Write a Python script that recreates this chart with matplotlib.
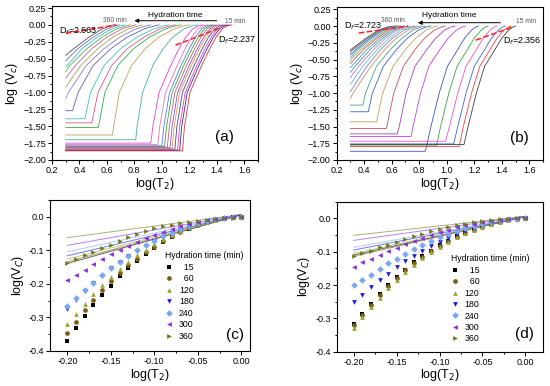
import matplotlib
matplotlib.use('Agg')
import matplotlib.pyplot as plt
from matplotlib.ticker import MultipleLocator

plt.rcParams['font.family'] = ['Liberation Sans', 'DejaVu Sans']

# ---- (a), (b): one cumulative curve per hydration time (360 min first) ----
# x where each curve crosses these log(Vc) levels (only levels above its start)
levels = [-1.5, -1.0, -0.6, -0.35, -0.18, -0.06, -0.015, 0.0]
x_start = 0.3

a_start = [-0.45, -0.53, -0.62, -0.69, -0.79, -0.92, -1.09, -1.27, -1.39, -1.45, -1.52, -1.63,
           -1.70, -1.75, -1.77, -1.79, -1.80, -1.81, -1.82, -1.83, -1.84, -1.85, -1.86, -1.865]
a_knee = [None, None, None, None, None, None, None, 0.35, 0.44, 0.49, 0.535, 0.64,
          0.81, 0.92, 0.97, 1.00, 1.02, 1.04, 1.06, 1.075, 1.095, 1.115, 1.13, 1.15]
a_cross = [
    [0.36, 0.47, 0.565, 0.62, 0.65],
    [0.39, 0.50, 0.60, 0.66, 0.69],
    [0.31, 0.42, 0.53, 0.635, 0.70, 0.73],
    [0.33, 0.455, 0.565, 0.67, 0.74, 0.77],
    [0.37, 0.49, 0.60, 0.71, 0.78, 0.81],
    [0.41, 0.535, 0.645, 0.755, 0.83, 0.86],
    [0.32, 0.45, 0.58, 0.695, 0.81, 0.885, 0.92],
    [0.39, 0.50, 0.63, 0.75, 0.87, 0.945, 0.98],
    [0.48, 0.58, 0.70, 0.82, 0.94, 1.01, 1.05],
    [0.535, 0.635, 0.75, 0.87, 0.985, 1.06, 1.10],
    [0.54, 0.585, 0.68, 0.795, 0.91, 1.025, 1.10, 1.14],
    [0.65, 0.69, 0.78, 0.88, 0.98, 1.09, 1.16, 1.20],
    [0.82, 0.86, 0.935, 1.01, 1.08, 1.16, 1.22, 1.26],
    [0.935, 0.98, 1.065, 1.125, 1.175, 1.225, 1.265, 1.30],
    [0.985, 1.027, 1.112, 1.17, 1.218, 1.265, 1.30, 1.335],
    [1.015, 1.056, 1.14, 1.20, 1.245, 1.29, 1.325, 1.36],
    [1.035, 1.075, 1.16, 1.22, 1.265, 1.31, 1.345, 1.38],
    [1.055, 1.095, 1.18, 1.24, 1.285, 1.33, 1.365, 1.40],
    [1.075, 1.115, 1.20, 1.26, 1.305, 1.35, 1.385, 1.42],
    [1.09, 1.13, 1.215, 1.275, 1.32, 1.365, 1.40, 1.435],
    [1.11, 1.15, 1.235, 1.295, 1.34, 1.385, 1.42, 1.455],
    [1.13, 1.17, 1.255, 1.315, 1.36, 1.405, 1.44, 1.475],
    [1.145, 1.185, 1.27, 1.33, 1.375, 1.42, 1.455, 1.49],
    [1.165, 1.205, 1.29, 1.35, 1.395, 1.44, 1.475, 1.51],
]
a_colors = ['#505050', '#7070b0', '#40b8c8', '#50b050', '#d06090', '#b0a050', '#8080d0', '#6060b0',
            '#40c0c0', '#e05090', '#30b040', '#c0a060', '#40b0a0', '#e040e0', '#f070b0', '#5080e0',
            '#40a040', '#c06080', '#9050d0', '#e0a030', '#4040c0', '#e040c0', '#303090', '#e03040']

b_start = [-0.36, -0.39, -0.43, -0.47, -0.51, -0.56, -0.62, -0.69, -0.77, -0.87, -0.98, -1.08,
           -1.18, -1.28, -1.43, -1.53, -1.61, -1.65, -1.87, -1.79, -1.72, -1.76, -1.80, -1.77]
b_knee = [None, None, None, None, None, None, None, None, None, None, None, None,
          0.39, 0.43, 0.49, 0.56, 0.64, 0.74, 0.845, 0.925, 0.99, 1.05, 1.09, 1.125]
b_cross = [
    [0.305, 0.415, 0.505, 0.57, 0.625],
    [0.32, 0.43, 0.52, 0.585, 0.635],
    [0.34, 0.445, 0.535, 0.60, 0.645],
    [0.355, 0.46, 0.55, 0.61, 0.655],
    [0.375, 0.48, 0.565, 0.625, 0.665],
    [0.395, 0.495, 0.58, 0.64, 0.68],
    [0.31, 0.42, 0.515, 0.60, 0.66, 0.695],
    [0.335, 0.445, 0.535, 0.62, 0.68, 0.715],
    [0.36, 0.47, 0.555, 0.64, 0.70, 0.735],
    [0.39, 0.495, 0.58, 0.665, 0.725, 0.76],
    [0.42, 0.52, 0.605, 0.69, 0.75, 0.785],
    [0.32, 0.45, 0.55, 0.635, 0.72, 0.78, 0.815],
    [0.41, 0.49, 0.59, 0.675, 0.755, 0.81, 0.845],
    [0.46, 0.54, 0.635, 0.715, 0.795, 0.85, 0.885],
    [0.535, 0.61, 0.70, 0.775, 0.85, 0.90, 0.935],
    [0.565, 0.615, 0.685, 0.77, 0.84, 0.91, 0.96, 0.99],
    [0.655, 0.705, 0.77, 0.855, 0.92, 0.985, 1.03, 1.06],
    [0.755, 0.81, 0.87, 0.95, 1.01, 1.07, 1.11, 1.135],
    [0.885, 0.945, 1.005, 1.08, 1.13, 1.18, 1.21, 1.23],
    [0.955, 1.015, 1.075, 1.15, 1.20, 1.25, 1.28, 1.30],
    [1.02, 1.08, 1.14, 1.215, 1.265, 1.315, 1.345, 1.365],
    [1.08, 1.14, 1.20, 1.275, 1.325, 1.375, 1.405, 1.425],
    [1.12, 1.18, 1.24, 1.315, 1.365, 1.415, 1.445, 1.465],
    [1.155, 1.215, 1.275, 1.35, 1.40, 1.45, 1.48, 1.50],
]
b_colors = ['#404040', '#606060', '#4060c0', '#40b0c0', '#a0a040', '#c06060', '#5090d0', '#40a080',
            '#d070d0', '#60c0c0', '#8080c0', '#c09060', '#40a0a0', '#4060c0', '#c0a060', '#c05060',
            '#a040c0', '#c040e0', '#4050c0', '#40a040', '#f050c0', '#4060e0', '#f04040', '#404040']

# ---- (c), (d): log(Vc) vs log(T2) near the top, markers + linear fits ----
hyd_times = ['15', '60', '120', '180', '240', '300', '360']
logT2 = [-0.20, -0.19, -0.18, -0.17, -0.16, -0.15, -0.14, -0.13, -0.12, -0.11, -0.10,
         -0.09, -0.08, -0.07, -0.06, -0.05, -0.04, -0.03, -0.02, -0.01, 0.00]
c_vals = [
    [-0.369, -0.330, -0.297, -0.262, -0.232, -0.205, -0.177, -0.153, -0.131, -0.111, -0.094,
     -0.075, -0.059, -0.046, -0.035, -0.025, -0.017, -0.010, -0.005, -0.001, 0.0],
    [-0.346, -0.313, -0.279, -0.247, -0.218, -0.192, -0.168, -0.145, -0.125, -0.106, -0.089,
     -0.072, -0.057, -0.044, -0.033, -0.024, -0.016, -0.009, -0.004, -0.001, 0.0],
    [-0.321, -0.291, -0.261, -0.230, -0.203, -0.178, -0.155, -0.134, -0.115, -0.098, -0.082,
     -0.067, -0.053, -0.041, -0.031, -0.022, -0.015, -0.009, -0.004, -0.001, 0.0],
    [-0.276, -0.249, -0.222, -0.198, -0.175, -0.154, -0.135, -0.117, -0.101, -0.086, -0.072,
     -0.059, -0.048, -0.037, -0.028, -0.020, -0.013, -0.008, -0.004, -0.001, 0.0],
    [-0.267, -0.241, -0.217, -0.196, -0.173, -0.153, -0.134, -0.116, -0.100, -0.085, -0.071,
     -0.058, -0.047, -0.036, -0.027, -0.019, -0.013, -0.007, -0.003, -0.001, 0.0],
    [-0.188, -0.173, -0.158, -0.141, -0.126, -0.112, -0.099, -0.086, -0.074, -0.063, -0.053,
     -0.044, -0.035, -0.027, -0.020, -0.014, -0.009, -0.005, -0.002, 0.0, 0.0],
    [-0.138, -0.126, -0.115, -0.104, -0.094, -0.083, -0.072, -0.061, -0.051, -0.041, -0.033,
     -0.027, -0.023, -0.019, -0.016, -0.013, -0.010, -0.007, -0.004, -0.002, 0.0],
]
d_vals = [
    [-0.318, -0.286, -0.256, -0.226, -0.201, -0.175, -0.154, -0.132, -0.114, -0.097, -0.081,
     -0.067, -0.054, -0.043, -0.033, -0.024, -0.016, -0.010, -0.005, -0.002, 0.0],
    [-0.320, -0.289, -0.259, -0.229, -0.203, -0.178, -0.156, -0.135, -0.116, -0.099, -0.083,
     -0.068, -0.055, -0.044, -0.034, -0.025, -0.017, -0.010, -0.005, -0.002, 0.0],
    [-0.329, -0.296, -0.266, -0.238, -0.209, -0.185, -0.162, -0.139, -0.119, -0.101, -0.085,
     -0.070, -0.057, -0.045, -0.035, -0.026, -0.018, -0.011, -0.006, -0.002, 0.0],
    [-0.251, -0.229, -0.206, -0.185, -0.167, -0.147, -0.129, -0.112, -0.097, -0.083, -0.070,
     -0.058, -0.047, -0.037, -0.028, -0.020, -0.013, -0.008, -0.004, -0.001, 0.0],
    [-0.201, -0.185, -0.169, -0.152, -0.135, -0.122, -0.107, -0.092, -0.080, -0.068, -0.057,
     -0.047, -0.038, -0.030, -0.022, -0.016, -0.010, -0.006, -0.003, -0.001, 0.0],
    [-0.145, -0.132, -0.122, -0.110, -0.098, -0.088, -0.077, -0.067, -0.058, -0.049, -0.041,
     -0.034, -0.027, -0.021, -0.016, -0.011, -0.007, -0.004, -0.002, 0.0, 0.0],
    [-0.112, -0.104, -0.097, -0.087, -0.080, -0.070, -0.063, -0.053, -0.046, -0.039, -0.032,
     -0.026, -0.021, -0.016, -0.012, -0.008, -0.005, -0.003, -0.001, 0.0, 0.0],
]
# fitted straight lines: value at log(T2) = -0.2 and at 0
fit_x = [-0.20, 0.00]
c_fit_left = [-0.139, -0.134, -0.126, -0.116, -0.104, -0.085, -0.062]
c_fit_right = [0.006, 0.006, 0.006, 0.006, 0.007, 0.007, 0.007]
d_fit_left = [-0.110, -0.114, -0.105, -0.095, -0.087, -0.066, -0.051]
d_fit_right = [0.005, 0.005, 0.005, 0.005, 0.006, 0.006, 0.006]

mk_colors = ['#000000', '#7b5c17', '#9ba52c', '#1a1ae0', '#7aa8f0', '#8a2be2', '#6b7d1a']
mk_shapes = ['s', 'o', '^', 'v', 'D', '<', '>']


def style_axes(ax):
    for sp in ax.spines.values():
        sp.set_linewidth(0.8)
    ax.tick_params(which='both', direction='out', top=False, right=False,
                   labelsize=6.5, width=0.7, pad=1.5)
    ax.tick_params(which='major', length=2.8)
    ax.tick_params(which='minor', length=1.5)


def curve_panel(ax, starts, knees, crosses, colors, texts):
    for y0, k, xs, col in zip(starts, knees, crosses, colors):
        px = [x_start]
        py = [y0]
        if k is not None:
            px.append(k)
            py.append(y0)
        px += xs
        py += levels[len(levels) - len(xs):]
        ax.plot(px, py, color=col, lw=0.6)
    ax.set_xlim(0.2, 1.7)
    ax.set_ylim(-2.0, 0.28)
    ax.xaxis.set_major_locator(MultipleLocator(0.2))
    ax.xaxis.set_minor_locator(MultipleLocator(0.1))
    ax.yaxis.set_major_locator(MultipleLocator(0.25))
    ax.yaxis.set_minor_locator(MultipleLocator(0.125))
    ax.set_xlabel('log(T$_2$)', fontsize=9, labelpad=1)
    ax.set_ylabel('log (V$_c$)', fontsize=9, labelpad=2)
    style_axes(ax)
    # dashed fractal-dimension guides
    ax.plot(texts['dl_x'], texts['dl_y'], '--', color='#ff2020', lw=1.1)
    ax.plot(texts['dr_x'], texts['dr_y'], '--', color='#ff2020', lw=1.1)
    ax.text(texts['dl_pos'][0], texts['dl_pos'][1], texts['dl'], fontsize=6.5, va='center')
    ax.text(texts['dr_pos'][0], texts['dr_pos'][1], texts['dr'], fontsize=6.5, va='center')
    ax.text(texts['t360'][0], texts['t360'][1], '360 min', fontsize=4.8, color='#555555', va='center')
    ax.text(texts['t15'][0], texts['t15'][1], '15 min', fontsize=4.8, color='#555555', va='center')
    ax.text(texts['hyd'][0], texts['hyd'][1], 'Hydration time', fontsize=6, va='center')
    ax.annotate('', xy=(texts['arrow'][0], texts['arrow'][2]),
                xytext=(texts['arrow'][1], texts['arrow'][2]),
                arrowprops=dict(arrowstyle='-|>', color='k', lw=0.7,
                                mutation_scale=6, shrinkA=0, shrinkB=0))
    ax.text(texts['lab'][0], texts['lab'][1], texts['lab'][2], fontsize=11, va='center')


def marker_panel(ax, vals, fit_left, fit_right, xlim, leg_anchor, lab):
    for i in range(len(hyd_times)):
        ax.plot(fit_x, [fit_left[i], fit_right[i]], color=mk_colors[i], lw=0.7, alpha=0.6)
    for i in range(len(hyd_times)):
        ax.plot(logT2, vals[i], linestyle='none', marker=mk_shapes[i], ms=3.4,
                color=mk_colors[i], mew=0, label=' ' * (2 * (3 - len(hyd_times[i]))) + hyd_times[i])
    ax.set_xlim(*xlim)
    ax.set_ylim(-0.4, 0.05)
    ax.xaxis.set_minor_locator(MultipleLocator(0.025))
    ax.yaxis.set_minor_locator(MultipleLocator(0.05))
    ax.set_xticks([-0.2, -0.15, -0.1, -0.05, 0.0])
    ax.set_xticklabels(['-0.20', '-0.15', '-0.10', '-0.05', '0.00'])
    ax.set_yticks([-0.4, -0.3, -0.2, -0.1, 0.0])
    ax.set_yticklabels(['-0.4', '-0.3', '-0.2', '-0.1', '0.0'])
    ax.set_xlabel('log(T$_2$)', fontsize=9, labelpad=0.5)
    ax.set_ylabel('log(V$_C$)', fontsize=9, labelpad=2)
    style_axes(ax)
    leg = ax.legend(loc='upper left', bbox_to_anchor=leg_anchor, frameon=False,
                    fontsize=6.3, title='Hydration time (min)', title_fontsize=6.2,
                    handlelength=1.0, handletextpad=0.6, labelspacing=0.28,
                    borderpad=0.1, borderaxespad=0.0)
    leg._legend_box.align = 'left'
    ax.text(lab[0], lab[1], lab[2], fontsize=11, va='center')


fig = plt.figure(figsize=(5.5, 3.86), dpi=100)

ax_a = fig.add_axes([0.0945, 0.5855, 0.3745, 0.399])
curve_panel(ax_a, a_start, a_knee, a_cross, a_colors, {
    'dl_x': [0.30, 0.67], 'dl_y': [-0.125, 0.0],
    'dr_x': [1.10, 1.43], 'dr_y': [-0.30, -0.04],
    'dl': 'D$_f$=2.663', 'dl_pos': (0.25, -0.09),
    'dr': 'D$_f$=2.237', 'dr_pos': (1.41, -0.22),
    't360': (0.57, 0.062), 't15': (1.46, 0.05),
    'hyd': (0.90, 0.14), 'arrow': (0.80, 1.40, 0.062),
    'lab': (1.39, -1.655, '(a)'),
})

ax_b = fig.add_axes([0.612, 0.5855, 0.3756, 0.3956])
curve_panel(ax_b, b_start, b_knee, b_cross, b_colors, {
    'dl_x': [0.36, 0.72], 'dl_y': [-0.105, 0.0],
    'dr_x': [1.21, 1.47], 'dr_y': [-0.21, -0.02],
    'dl': 'D$_f$=2.723', 'dl_pos': (0.255, 0.0),
    'dr': 'D$_f$=2.356', 'dr_pos': (1.41, -0.22),
    't360': (0.52, 0.08), 't15': (1.505, 0.065),
    'hyd': (0.82, 0.155), 'arrow': (0.79, 1.39, 0.05),
    'lab': (1.46, -1.67, '(b)'),
})

ax_c = fig.add_axes([0.0909, 0.0907, 0.3636, 0.391])
marker_panel(ax_c, c_vals, c_fit_left, c_fit_right, (-0.22, 0.01), (0.57, 0.665),
             (-0.017, -0.353, '(c)'))

ax_d = fig.add_axes([0.612, 0.0889, 0.3745, 0.3886])
marker_panel(ax_d, d_vals, d_fit_left, d_fit_right, (-0.22, 0.02), (0.55, 0.655),
             (-0.012, -0.347, '(d)'))

fig.savefig('out.png', dpi=100)
